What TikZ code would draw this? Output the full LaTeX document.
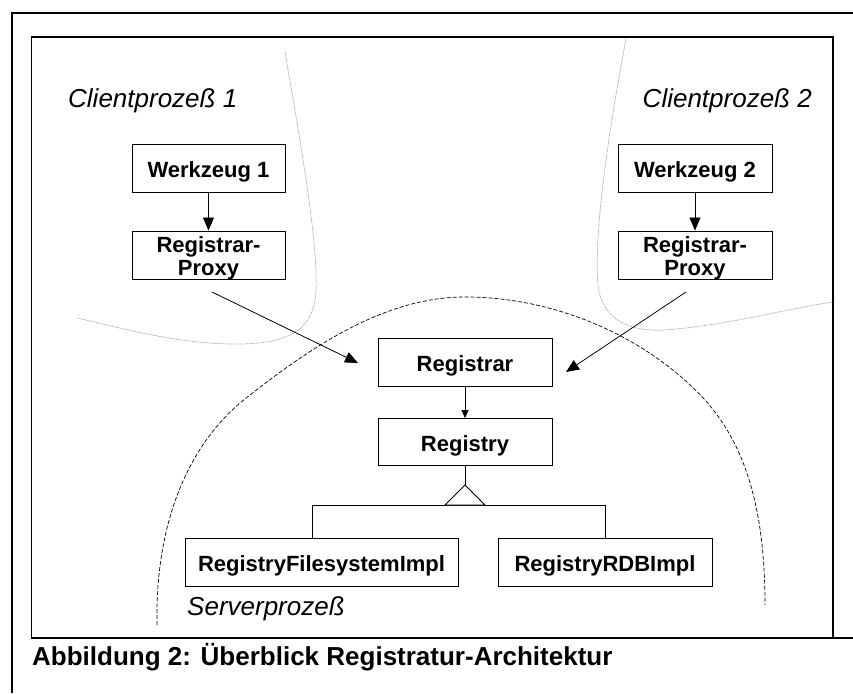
\documentclass[tikz,border=0pt]{standalone}
\usepackage{fontspec}
\setmainfont{Liberation Sans}
\usetikzlibrary{arrows.meta}
\begin{document}
\begin{tikzpicture}[x=1pt,y=-1pt,
  box/.style={draw=black, line width=0.9pt, fill=white, inner sep=0pt,
    font=\bfseries\fontsize{22}{23}\selectfont, text height=19pt, text depth=0pt,
    minimum height=48pt},
  bigtip/.style={-{Triangle[length=13pt,width=11pt]}, line width=0.8pt},
  smalltip/.style={-{Triangle[length=8pt,width=7pt]}, line width=0.8pt},
  regionlabel/.style={font=\itshape\fontsize{26}{30}\selectfont, inner sep=0pt},
  clientline/.style={draw=gray!75, line width=0.7pt, dash pattern=on 1pt off 0.8pt},
  serverline/.style={draw=black, line width=0.7pt, dash pattern=on 4pt off 2pt},
  plainline/.style={line width=0.8pt}]
\useasboundingbox (0,0) rectangle (853,693);
% frames
\draw[line width=2.5pt] (12,693) -- (12,13) -- (853,13);
\draw[line width=1.2pt] (853,638) -- (31.5,638) -- (31.5,37) -- (833,37) -- (833,638);
% process boundaries
\draw[clientline] (285,52) .. controls (300,140) and (318,240) .. (316,290)
  .. controls (314,330) and (290,345) .. (230,344)
  .. controls (170,343) and (110,325) .. (77,318);
\draw[clientline] (626,39) .. controls (605,150) and (594,240) .. (598,285)
  .. controls (602,320) and (630,332) .. (665,330)
  .. controls (730,325) and (790,308) .. (833,302);
\draw[serverline] (157,625) .. controls (155,520) and (190,440) .. (250,395)
  .. controls (320,340) and (390,297) .. (465,297)
  .. controls (560,297) and (650,340) .. (705,400)
  .. controls (750,450) and (765,520) .. (765,605);
% labels
\node[regionlabel, anchor=base west] (l1) at (68,107) {Clientprozeß 1};
\node[regionlabel, anchor=base east] (l2) at (812,107) {Clientprozeß 2};
\node[regionlabel, anchor=base west] (l3) at (187,615) {Serverprozeß};
\node[font=\bfseries\fontsize{26}{30}\selectfont, inner sep=0pt, anchor=base west] (cap) at (32,665) {Abbildung 2: Überblick Registratur-Architektur};
% boxes
\node[box, minimum width=153pt] (w1) at (208.5,168) {Werkzeug 1};
\node[box, minimum width=153pt] (p1) at (208.5,255) {\raisebox{12.5pt}[0pt][0pt]{\begin{tabular}[t]{@{}c@{}}Registrar-\\Proxy\end{tabular}}};
\node[box, minimum width=154pt] (w2) at (695,168) {Werkzeug 2};
\node[box, minimum width=154pt] (p2) at (695,255) {\raisebox{12.5pt}[0pt][0pt]{\begin{tabular}[t]{@{}c@{}}Registrar-\\Proxy\end{tabular}}};
\node[box, minimum width=174pt] (rar) at (465,362) {Registrar};
\node[box, minimum width=174pt, minimum height=47pt] (reg) at (465,442) {Registry};
\node[box, minimum width=273pt] (fs) at (321.5,562) {RegistryFilesystemImpl};
\node[box, minimum width=214pt] (rdb) at (605,562) {RegistryRDBImpl};
% connectors
\draw[bigtip] (w1) -- (p1);
\draw[bigtip] (w2) -- (p2);
\coordinate (a1s) at (212,292);
\coordinate (a1e) at (358,363);
\draw[bigtip] (a1s) -- (a1e);
\coordinate (a2s) at (686,292);
\coordinate (a2e) at (566,372);
\draw[bigtip] (a2s) -- (a2e);
\draw[smalltip] (rar) -- (reg);
\coordinate (apex) at (465,485);
\coordinate (jl) at (312,505);
\coordinate (jr) at (605,505);
\draw[plainline] (reg.south) -- (apex);
\draw[plainline] (jl |- fs.north) -- (jl) -- (jr) -- (rdb.north);
\draw[plainline, fill=white] (apex) -- (445,505) -- (485,505) -- cycle;
\end{tikzpicture}
\end{document}
